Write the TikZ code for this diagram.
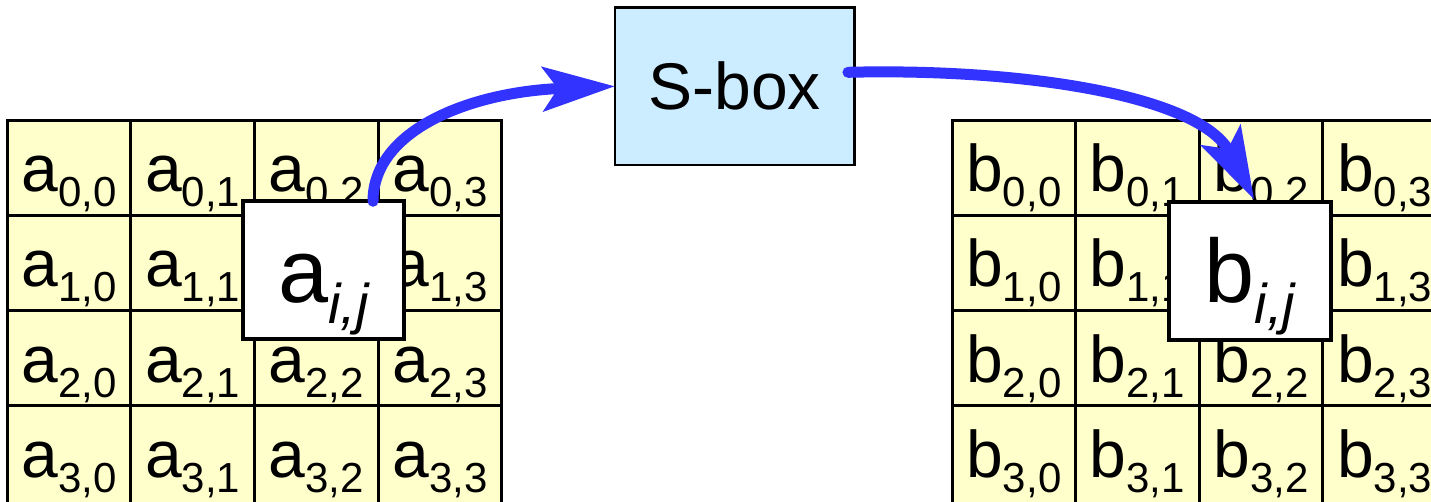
\documentclass[tikz,border=0pt]{standalone}
\usepackage{fontspec}
\setmainfont{Liberation Sans}
\usetikzlibrary{arrows.meta}

\definecolor{cellyellow}{RGB}{255,255,204}
\definecolor{sboxblue}{RGB}{204,236,255}
\definecolor{flowblue}{RGB}{51,51,255}

% state element with a two-index subscript
\newcommand\elem[3]{#1\raisebox{-15pt}{\fontsize{42}{42}\selectfont #2,#3}}
% highlighted element with italic i,j subscript
\newcommand\bigelem[1]{#1\raisebox{-21pt}{\fontsize{56}{56}\selectfont\itshape i,j}}

\begin{document}
\begin{tikzpicture}[x=1pt,y=-1pt,
  cell/.style={draw, line width=3pt, fill=cellyellow, inner sep=0pt, outer sep=0pt,
    minimum width=123.6pt, minimum height=95.3pt,
    text height=48pt, text depth=0pt, font=\fontsize{66}{66}\selectfont},
  lastcell/.style={cell, minimum height=115pt, text height=28.4pt},
  focus/.style={draw, line width=4pt, fill=white, inner sep=0pt, outer sep=0pt,
    minimum width=161.5pt, minimum height=138pt,
    text height=63.4pt, text depth=0pt, font=\fontsize{90}{90}\selectfont},
  sboxnode/.style={draw, line width=2.7pt, fill=sboxblue, inner sep=0pt, outer sep=0pt,
    minimum width=239.7pt, minimum height=157.3pt, font=\fontsize{66}{66}\selectfont},
  flow/.style={draw=flowblue, line width=11pt, line cap=round,
    -{Stealth[length=72pt, width=44pt, inset=15pt]}}
]
\useasboundingbox (0,0) rectangle (1431,501);
\clip (0,0) rectangle (1431,501);

% input state a
\foreach \rr in {0,...,3}{
  \foreach \cc in {0,...,3}{
    \ifnum\rr<3
      \node[cell] (a\rr\cc) at ({69.1+123.6*\cc},{167.65+95.3*\rr}) {\elem{a}{\rr}{\cc}};
    \else
      \node[lastcell] (a\rr\cc) at ({69.1+123.6*\cc},463.4) {\elem{a}{\rr}{\cc}};
    \fi
  }
}

% output state b
\foreach \rr in {0,...,3}{
  \foreach \cc in {0,...,3}{
    \ifnum\rr<3
      \node[cell] (b\rr\cc) at ({1013.8+123.6*\cc},{167.65+95.3*\rr}) {\elem{b}{\rr}{\cc}};
    \else
      \node[lastcell] (b\rr\cc) at ({1013.8+123.6*\cc},463.4) {\elem{b}{\rr}{\cc}};
    \fi
  }
}

% the byte being substituted
\node[focus] (aij) at (323.25,270.3) {\bigelem{a}};
\node[focus] (bij) at (1250.1,270.5) {\bigelem{b}};

% substitution box
\node[sboxnode] (sbox) at (734.8,86.3) {S-box};

% data flow
\draw[flow] ([xshift=-31pt]aij.north east) .. controls (373,130) and (470,92) .. (sbox.west);
\draw[flow] ([xshift=-6.7pt,yshift=14pt]sbox.east) .. controls (1020,68) and (1200,95) .. ([xshift=4pt,yshift=2pt]bij.north);
\end{tikzpicture}
\end{document}
